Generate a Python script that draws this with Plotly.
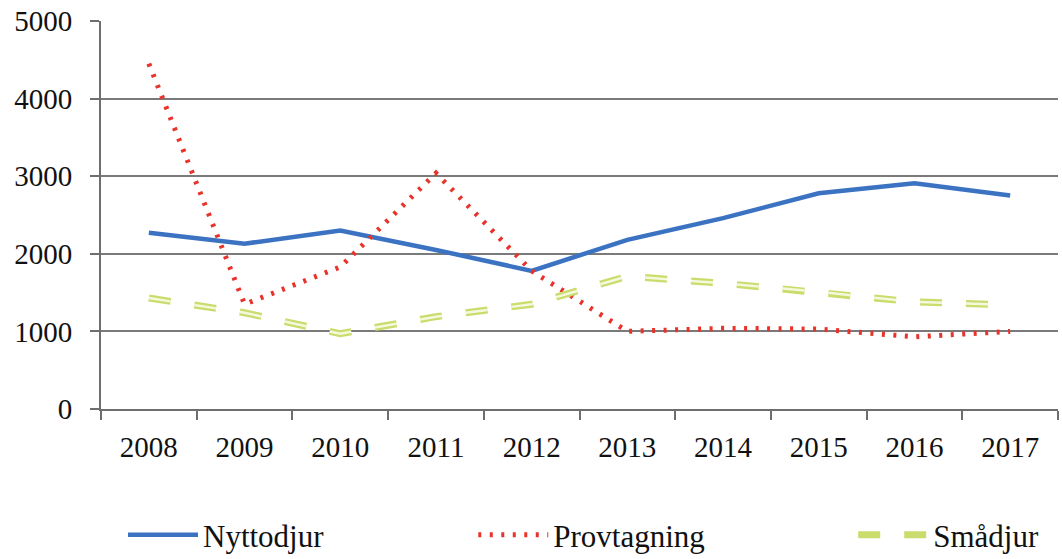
import plotly.graph_objects as go

years = ["2008", "2009", "2010", "2011", "2012", "2013", "2014", "2015", "2016", "2017"]
nyttodjur = [2270, 2130, 2300, 2050, 1780, 2180, 2460, 2780, 2910, 2750]
provtagning = [4450, 1350, 1830, 3040, 1780, 1000, 1040, 1030, 930, 1000]
smadjur = [1430, 1240, 970, 1190, 1350, 1710, 1620, 1510, 1380, 1340]

FONT = "Liberation Serif"
dash_pat = "22px,24px"

fig = go.Figure()
fig.add_trace(go.Scatter(x=years, y=nyttodjur, mode="lines", name="Nyttodjur", legend="legend",
                         line=dict(color="#3b73c2", width=4.5)))
fig.add_trace(go.Scatter(x=years, y=provtagning, mode="lines", name="Provtagning", legend="legend2",
                         line=dict(color="#e8332b", width=5, dash="3px,8.5px")))
fig.add_trace(go.Scatter(x=years, y=smadjur, mode="lines", name="Smådjur", legend="legend3",
                         line=dict(color="#c9dc6c", width=7, dash=dash_pat)))
fig.add_trace(go.Scatter(x=years, y=smadjur, mode="lines", showlegend=False, hoverinfo="skip",
                         line=dict(color="#f4f8dc", width=2.5, dash=dash_pat)))

def leg(xpos):
    return dict(orientation="h", x=xpos, xanchor="left", y=-0.325, yanchor="middle",
                font=dict(family=FONT, size=31, color="#111111"),
                itemwidth=70, bgcolor="rgba(0,0,0,0)")

fig.update_layout(
    width=1062, height=559,
    margin=dict(l=101, r=4, t=21, b=150, autoexpand=False),
    paper_bgcolor="white", plot_bgcolor="white",
    font=dict(family=FONT, size=29, color="#111111"),
    showlegend=True,
    legend=leg(0.023), legend2=leg(0.389), legend3=leg(0.786),
)
fig.update_xaxes(type="category", range=[-0.5, 9.5], showline=True, linecolor="#6e6e6e", linewidth=2,
                 ticks="outside", tickson="boundaries", ticklen=9, tickcolor="#6e6e6e",
                 tickwidth=2, showgrid=False, tickfont=dict(family=FONT, size=29),
                 ticklabelstandoff=11, automargin=False)
fig.update_yaxes(range=[0, 5000], dtick=1000, showline=True, linecolor="#6e6e6e", linewidth=2,
                 ticks="outside", ticklen=9, tickcolor="#6e6e6e", tickwidth=2,
                 showgrid=True, gridcolor="#7a7a7a", gridwidth=2, zeroline=False,
                 tickfont=dict(family=FONT, size=29), ticklabelstandoff=12, automargin=False)

fig.write_html("out.html", config={"displayModeBar": False},
               post_script="document.body.style.margin='0';")
